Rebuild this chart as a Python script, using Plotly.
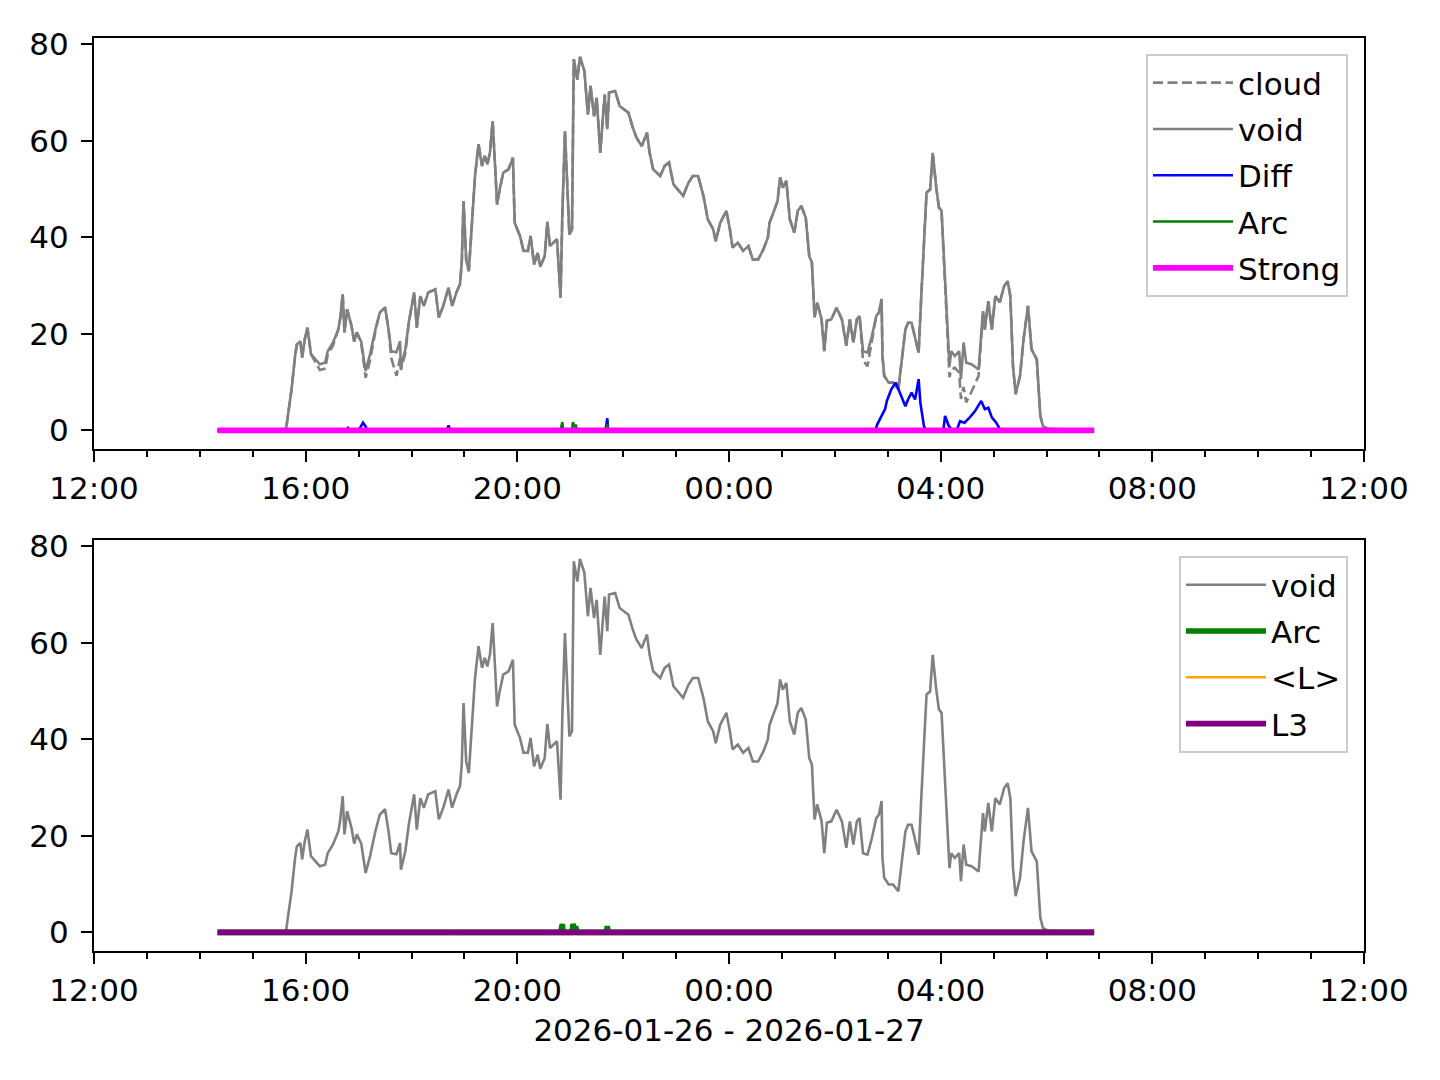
import plotly.graph_objects as go
from plotly.subplots import make_subplots

# ---------------- data ----------------
void_time = ["14:20", "15:36", "15:38", "15:44", "15:48", "15:50", "15:54", "15:56", "15:59", "16:02",
             "16:06", "16:11", "16:16", "16:22", "16:25", "16:31", "16:37", "16:39", "16:42", "16:44",
             "16:47", "16:48", "16:52", "16:55", "16:58", "17:03", "17:08", "17:13", "17:19", "17:24",
             "17:30", "17:34", "17:37", "17:43", "17:47", "17:48", "17:53", "17:57", "18:03", "18:06",
             "18:10", "18:14", "18:19", "18:27", "18:29", "18:31", "18:36", "18:42", "18:46", "18:51",
             "18:55", "18:57", "18:59", "19:02", "19:05", "19:08", "19:12", "19:16", "19:20", "19:23",
             "19:26", "19:29", "19:32", "19:35", "19:37", "19:40", "19:44", "19:50", "19:55", "19:57",
             "20:03", "20:07", "20:12", "20:15", "20:19", "20:23", "20:26", "20:31", "20:34", "20:37",
             "20:45", "20:49", "20:51", "20:54", "20:59", "21:02", "21:04", "21:08", "21:11", "21:16",
             "21:20", "21:23", "21:27", "21:30", "21:34", "21:39", "21:42", "21:44", "21:51", "21:56",
             "22:06", "22:11", "22:15", "22:21", "22:27", "22:30", "22:34", "22:42", "22:47", "22:52",
             "22:57", "23:02", "23:08", "23:14", "23:19", "23:25", "23:31", "23:36", "23:42", "23:45",
             "23:50", "23:57", "00:01", "00:04", "00:10", "00:16", "00:22", "00:27", "00:33", "00:39",
             "00:44", "00:46", "00:52", "00:55", "00:58", "01:01", "01:05", "01:09", "01:14", "01:18",
             "01:22", "01:27", "01:31", "01:34", "01:37", "01:40", "01:45", "01:48", "01:51", "01:56",
             "02:02", "02:08", "02:13", "02:17", "02:21", "02:25", "02:28", "02:32", "02:37", "02:42",
             "02:47", "02:50", "02:53", "02:54", "02:56", "03:01", "03:06", "03:12", "03:16", "03:20",
             "03:23", "03:27", "03:31", "03:35", "03:38", "03:44", "03:48", "03:51", "03:55", "03:58",
             "04:01", "04:07", "04:10", "04:12", "04:16", "04:21", "04:23", "04:26", "04:29", "04:35",
             "04:43", "04:48", "04:50", "04:54", "04:58", "05:02", "05:07", "05:12", "05:16", "05:19",
             "05:22", "05:25", "05:30", "05:34", "05:39", "05:43", "05:49", "05:53", "05:56", "06:02",
             "06:54"]

void_vals = [0, 0, 0.6, 8.5, 15.4, 17.8, 18.5, 15.1, 18.9, 21.3,
             15.8, 14.7, 13.7, 14.0, 16.4, 18.2, 20.9, 23.0, 28.2, 20.3,
             25.1, 24.4, 21.6, 18.4, 20.3, 18.4, 12.3, 15.8, 20.9, 24.4,
             25.5, 20.9, 16.4, 16.2, 18.5, 13.0, 16.8, 22.4, 28.6, 21.3,
             27.8, 25.8, 28.6, 29.2, 25.8, 23.4, 25.8, 29.6, 25.8, 28.6,
             30.3, 34.8, 47.5, 35.4, 33.0, 41.7, 52.7, 59.3, 54.8, 56.9,
             55.1, 57.6, 64.1, 54.1, 46.8, 49.9, 53.4, 54.1, 56.5, 43.0,
             40.3, 37.2, 37.2, 40.3, 34.4, 36.8, 33.9, 36.1, 43.2, 38.2,
             39.6, 27.5, 44.6, 62.0, 40.6, 41.7, 76.9, 72.7, 77.4, 74.5,
             65.5, 71.4, 65.1, 68.9, 57.5, 69.6, 62.4, 70.0, 70.3, 67.2,
             65.8, 62.7, 60.7, 58.9, 61.7, 57.5, 54.1, 52.7, 54.8, 55.5,
             51.0, 49.9, 48.6, 51.3, 52.7, 52.7, 48.6, 43.7, 41.7, 39.2,
             43.0, 45.5, 41.7, 37.9, 38.9, 37.2, 38.2, 35.4, 35.4, 37.5,
             39.9, 43.0, 46.2, 47.5, 52.4, 50.3, 51.7, 43.7, 41.0, 45.5,
             46.5, 44.1, 36.1, 34.8, 23.4, 26.5, 23.0, 16.4, 22.7, 23.0,
             25.4, 23.0, 17.5, 23.0, 18.2, 23.0, 23.7, 16.4, 16.1, 19.5,
             23.7, 24.4, 27.2, 15.4, 11.3, 9.9, 9.9, 8.5, 14.7, 20.9,
             22.3, 22.3, 19.2, 16.1, 27.8, 49.3, 49.9, 57.5, 50.3, 46.2,
             45.5, 22.3, 13.3, 16.4, 15.4, 16.4, 10.6, 18.2, 14.0, 13.7,
             12.6, 24.7, 20.9, 26.8, 20.9, 27.8, 26.5, 29.9, 30.9, 27.8,
             13.3, 7.5, 11.3, 18.9, 25.8, 16.8, 14.7, 3.0, 0.9, 0.3,
             0]

cloud_vals = [0, 0, 0.6, 8.5, 15.4, 17.8, 18.5, 15.1, 18.9, 21.3,
              15.8, 14.2, 12.5, 12.8, 15.6, 17.6, 20.9, 23.0, 28.2, 20.3,
              25.1, 24.4, 21.6, 18.4, 20.3, 18.0, 10.9, 14.5, 20.5, 24.4,
              25.5, 20.9, 15.0, 11.3, 15.0, 12.5, 16.0, 22.4, 28.6, 21.3,
              27.8, 25.8, 28.6, 29.2, 25.8, 23.4, 25.8, 29.6, 25.8, 28.6,
              30.3, 34.8, 47.5, 35.4, 33.0, 41.7, 52.7, 59.3, 54.8, 56.9,
              55.1, 57.6, 64.1, 54.1, 46.8, 49.9, 53.4, 54.1, 56.5, 43.0,
              40.3, 37.2, 37.2, 40.3, 34.4, 36.8, 33.9, 36.1, 43.2, 38.2,
              39.6, 27.5, 44.6, 62.0, 40.6, 41.7, 76.9, 72.7, 77.4, 74.5,
              65.5, 71.4, 65.1, 68.9, 57.5, 69.6, 62.4, 70.0, 70.3, 67.2,
              65.8, 62.7, 60.7, 58.9, 61.7, 57.5, 54.1, 52.7, 54.8, 55.5,
              51.0, 49.9, 48.6, 51.3, 52.7, 52.7, 48.6, 43.7, 41.7, 39.2,
              43.0, 45.5, 41.7, 37.9, 38.9, 37.2, 38.2, 35.4, 35.4, 37.5,
              39.9, 43.0, 46.2, 47.5, 52.4, 50.3, 51.7, 43.7, 41.0, 45.5,
              46.5, 44.1, 36.1, 34.8, 23.4, 26.5, 23.0, 16.4, 22.7, 23.0,
              25.4, 23.0, 17.5, 23.0, 18.2, 23.0, 23.7, 14.5, 13.3, 18.5,
              23.7, 24.4, 27.2, 15.4, 11.3, 9.9, 9.9, 8.5, 14.7, 20.9,
              22.3, 22.3, 19.2, 16.1, 27.8, 49.3, 49.9, 57.5, 50.3, 46.2,
              45.5, 22.3, 11.0, 12.5, 13.0, 12.0, 6.5, 9.0, 5.8, 8.0,
              11.3, 24.7, 20.9, 26.8, 20.9, 27.8, 26.5, 29.9, 30.9, 27.8,
              13.3, 7.5, 11.3, 18.9, 25.8, 16.8, 14.7, 3.0, 0.9, 0.3,
              0]

diff_time = ["14:20", "16:46", "16:48", "16:50", "17:00", "17:03", "17:05", "17:08", "17:10",
             "18:40", "18:42", "18:44", "21:40", "21:42", "21:43",
             "02:46", "02:48", "02:53", "02:57", "02:59", "03:04", "03:09", "03:14", "03:20", "03:23",
             "03:27", "03:31", "03:35", "03:37", "03:41", "03:43",
             "04:03", "04:05", "04:09", "04:13", "04:18", "04:22", "04:27", "04:33", "04:39", "04:46",
             "04:50", "04:54", "04:58", "05:03", "05:07", "05:11", "06:54"]
diff_vals = [0, 0, 0.5, 0, 0, 1.0, 1.6, 0.8, 0,
             0, 1.0, 0, 0, 2.5, 0,
             0, 1.2, 3.0, 4.4, 6.1, 8.5, 9.9, 7.5, 5.0, 6.4,
             7.8, 6.4, 10.6, 5.7, 0.9, 0,
             0, 3.0, 1.0, 0, 0, 1.9, 1.6, 2.7, 4.0, 6.1,
             4.4, 4.7, 2.7, 1.6, 0.3, 0, 0]

arc_time = ["14:20", "20:49", "20:51", "20:52", "21:02", "21:03", "21:05", "21:06", "21:08",
            "21:41", "21:42", "21:43", "06:54"]
arc_vals = [0, 0, 1.7, 0, 0, 1.7, 0.6, 1.2, 0,
            0, 1.3, 0, 0]

lmean_time = ["14:20", "18:41", "18:42", "18:43", "06:54"]
lmean_vals = [0, 0, 0.5, 0, 0]

flat_time = ["14:20", "06:54"]
strong_vals = [0, 0]
l3_vals = [0, 0]

x_tick_labels = ["12:00", "16:00", "20:00", "00:00", "04:00", "08:00", "12:00"]
date_label = "2026-01-26 - 2026-01-27"


def ts(hm):
    h = int(hm.split(":")[0])
    day = "2026-01-26" if h >= 12 else "2026-01-27"
    return f"{day} {hm}"


def stamps(lst):
    return [ts(t) for t in lst]


GRAY, BLUE, GREEN, MAG, ORANGE, PURPLE = "#808080", "#0000ff", "#008000", "#ff00ff", "#ffa500", "#800080"
FONT = "DejaVu Sans"
FS = 31
LW1 = 2.6
LW2 = 5.6

fig = make_subplots(rows=2, cols=1, vertical_spacing=0.0996)

# top panel
fig.add_trace(go.Scatter(x=stamps(void_time), y=cloud_vals, name="cloud", mode="lines",
                         line=dict(color=GRAY, width=LW1, dash="10px,4.5px"), legend="legend",
                         legendgroup="a1"), row=1, col=1)
fig.add_trace(go.Scatter(x=stamps(void_time), y=void_vals, name="void", mode="lines",
                         line=dict(color=GRAY, width=LW1), legend="legend", legendgroup="a2"), row=1, col=1)
fig.add_trace(go.Scatter(x=stamps(diff_time), y=diff_vals, name="Diff", mode="lines",
                         line=dict(color=BLUE, width=LW1), legend="legend", legendgroup="a3"), row=1, col=1)
fig.add_trace(go.Scatter(x=stamps(arc_time), y=arc_vals, name="Arc", mode="lines",
                         line=dict(color=GREEN, width=LW1), legend="legend", legendgroup="a4"), row=1, col=1)
fig.add_trace(go.Scatter(x=stamps(flat_time), y=strong_vals, name="Strong", mode="lines",
                         line=dict(color=MAG, width=LW2), legend="legend", legendgroup="a5"), row=1, col=1)

# bottom panel
fig.add_trace(go.Scatter(x=stamps(void_time), y=void_vals, name="void", mode="lines",
                         line=dict(color=GRAY, width=LW1), legend="legend2", legendgroup="b1"), row=2, col=1)
fig.add_trace(go.Scatter(x=stamps(arc_time), y=arc_vals, name="Arc", mode="lines",
                         line=dict(color=GREEN, width=LW2), legend="legend2", legendgroup="b2"), row=2, col=1)
fig.add_trace(go.Scatter(x=stamps(lmean_time), y=lmean_vals, name="<L>", mode="lines",
                         line=dict(color=ORANGE, width=LW1), legend="legend2", legendgroup="b3"), row=2, col=1)
fig.add_trace(go.Scatter(x=stamps(flat_time), y=l3_vals, name="L3", mode="lines",
                         line=dict(color=PURPLE, width=LW2), legend="legend2", legendgroup="b4"), row=2, col=1)

xr = ["2026-01-26 12:00", "2026-01-27 12:00"]
tickvals = ["2026-01-26 12:00", "2026-01-26 16:00", "2026-01-26 20:00", "2026-01-27 00:00",
            "2026-01-27 04:00", "2026-01-27 08:00", "2026-01-27 12:00"]
axis_common = dict(showgrid=False, zeroline=False, showline=True, linecolor="black", linewidth=2.2,
                   mirror=True, ticks="outside", ticklen=11, tickwidth=2.2, tickcolor="black",
                   tickfont=dict(family=FONT, size=FS, color="black"))
for r in (1, 2):
    fig.update_xaxes(type="date", range=xr, tickmode="array", tickvals=tickvals, ticktext=x_tick_labels,
                     minor=dict(dtick=3600000, tick0="2026-01-26 12:00", ticks="outside", ticklen=6,
                                tickwidth=1.8, tickcolor="black"),
                     ticklabelstandoff=0, **axis_common, row=r, col=1)
    fig.update_yaxes(range=[-3.87, 81.31], tickvals=[0, 20, 40, 60, 80], ticklabelstandoff=6,
                     **axis_common, row=r, col=1)

fig.update_xaxes(title=dict(text=date_label, font=dict(family=FONT, size=FS, color="black"), standoff=12),
                 row=2, col=1)

legend_common = dict(bgcolor="white", bordercolor="#cccccc", borderwidth=2, xanchor="right",
                     yanchor="top", font=dict(family=FONT, size=FS, color="black"),
                     tracegroupgap=3, traceorder="grouped", itemwidth=80)
fig.update_layout(
    width=1440, height=1080,
    margin=dict(l=86, r=84, t=30, b=137),
    paper_bgcolor="white", plot_bgcolor="white",
    font=dict(family=FONT, size=FS, color="black"),
    showlegend=True,
    legend=dict(x=0.9874, y=0.9825, **legend_common),
    legend2=dict(x=0.9874, y=0.4326, **legend_common),
)

fig.write_html("out.html")
